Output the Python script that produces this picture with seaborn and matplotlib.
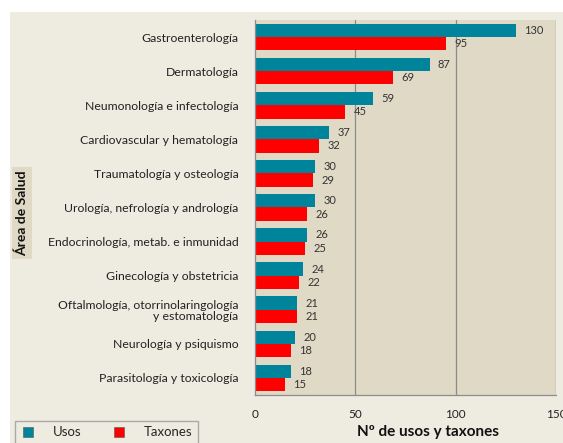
import matplotlib
matplotlib.use("Agg")
import matplotlib.pyplot as plt
import seaborn as sns
import pandas as pd
from matplotlib.patches import Rectangle
from matplotlib.lines import Line2D

categories = [
    "Gastroenterología",
    "Dermatología",
    "Neumonología e infectología",
    "Cardiovascular y hematología",
    "Traumatología y osteología",
    "Urología, nefrología y andrología",
    "Endocrinología, metab. e inmunidad",
    "Ginecología y obstetricia",
    "Oftalmología, otorrinolaringología\ny estomatología",
    "Neurología y psiquismo",
    "Parasitología y toxicología",
]
usos = [130, 87, 59, 37, 30, 30, 26, 24, 21, 20, 18]
taxones = [95, 69, 45, 32, 29, 26, 25, 22, 21, 18, 15]
series = ["Usos", "Taxones"]
colors = ["#00849C", "#FF0000"]
xticks = [0, 50, 100, 150]

df = pd.DataFrame({
    "cat": categories * 2,
    "val": usos + taxones,
    "serie": [series[0]] * len(categories) + [series[1]] * len(categories),
})

sns.set_style("white")
plt.rcParams["font.family"] = ["Lato", "DejaVu Sans"]

W, H = 563, 443
fig = plt.figure(figsize=(W / 100, H / 100), dpi=100)
fig.patch.set_facecolor("#EEEBE1")
# white margins of the screenshot
fig.add_artist(Rectangle((0, 1 - 12 / H), 1, 12 / H, transform=fig.transFigure,
                         facecolor="white", edgecolor="none", zorder=0))
fig.add_artist(Rectangle((0, 0), 10 / W, 1, transform=fig.transFigure,
                         facecolor="white", edgecolor="none", zorder=0))

ax = fig.add_axes([255 / W, 1 - 395 / H, (556 - 255) / W, (395 - 20) / H])
ax.set_facecolor("#DFD9C5")

sns.barplot(data=df, y="cat", x="val", hue="serie", orient="h",
            palette=colors, width=0.78, ax=ax, legend=False,
            edgecolor="none", saturation=1)

for cont in ax.containers:
    ax.bar_label(cont, padding=6, fontsize=8, color="#333333")

ax.set_xlim(0, 150)
ax.set_xticks(xticks)
ax.set_xticklabels([str(t) for t in xticks], fontsize=8.5, color="#222222")
ax.tick_params(axis="x", length=4, color="#888888", pad=6)
ax.tick_params(axis="y", length=4, color="#888888", labelsize=8.8, labelcolor="#222222", pad=8)
ax.set_yticks(range(len(categories)))
ax.set_yticklabels(categories, linespacing=1.0)
for lab in ax.get_yticklabels():
    lab.set_horizontalalignment("right")
ax.set_ylim(len(categories) - 0.5, -0.5)

for t in [50, 100, 150]:
    ax.axvline(t, color="#8C8C8C", lw=0.9, zorder=0)
ax.set_axisbelow(True)

for s in ["top", "right"]:
    ax.spines[s].set_visible(False)
for s in ["left", "bottom"]:
    ax.spines[s].set_color("#8C8C8C")
    ax.spines[s].set_linewidth(0.9)

ax.set_xlabel("")
ax.set_ylabel("")

fig.text(428 / W, 1 - 432 / H, "Nº de usos y taxones", ha="center", va="center",
         fontsize=11, fontweight="bold", color="#111111")
fig.text(22 / W, 1 - 213 / H, "Área de Salud", rotation=90, ha="center", va="center",
         fontsize=10, fontweight="bold", color="#111111",
         bbox=dict(facecolor="#DFD9C5", edgecolor="none", pad=2.5))

handles = [Line2D([0], [0], marker="s", linestyle="none", markersize=7,
                  markerfacecolor=c, markeredgecolor="#555555", markeredgewidth=0.4)
           for c in colors]
leg = fig.legend(handles, series, loc="upper left",
                 bbox_to_anchor=(15 / W, 1 - 421 / H), ncol=2, frameon=True,
                 fontsize=9.5, fancybox=False, columnspacing=2.2, handletextpad=1.3,
                 handlelength=1.2, borderpad=0.4, borderaxespad=0)
leg.get_frame().set_facecolor("#EEEBE1")
leg.get_frame().set_edgecolor("#999999")

fig.savefig("out.png", dpi=100, facecolor=fig.get_facecolor())
